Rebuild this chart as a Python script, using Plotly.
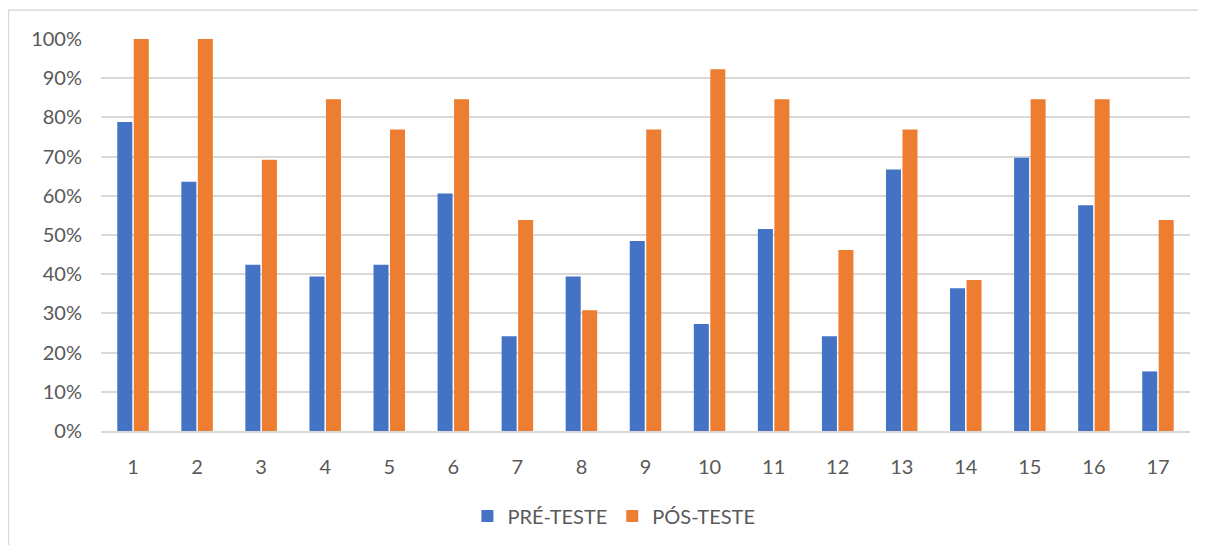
import plotly.graph_objects as go

categories = [str(i) for i in range(1, 18)]
pre_teste = [0.788, 0.636, 0.424, 0.394, 0.424, 0.606, 0.242, 0.394, 0.485, 0.273,
             0.515, 0.242, 0.667, 0.364, 0.697, 0.576, 0.152]
pos_teste = [1.0, 1.0, 0.692, 0.846, 0.769, 0.846, 0.538, 0.308, 0.769, 0.923,
             0.846, 0.462, 0.769, 0.385, 0.846, 0.846, 0.538]
series_names = ["PRÉ-TESTE", "PÓS-TESTE"]
y_ticks = [i / 10 for i in range(11)]

FONT = "Lato, 'Open Sans', sans-serif"
TXT = "#595959"

fig = go.Figure()
fig.add_trace(go.Bar(x=categories, y=pre_teste, name=series_names[0],
                     marker=dict(color="#4472C4", line=dict(width=0))))
fig.add_trace(go.Bar(x=categories, y=pos_teste, name=series_names[1],
                     marker=dict(color="#ED7D31", line=dict(width=0))))

border = dict(color="#d9d9d9", width=1.5)
fig.update_layout(
    width=1206, height=545,
    margin=dict(l=93, r=24, t=31, b=122),
    paper_bgcolor="white", plot_bgcolor="white",
    barmode="group", bargap=0.485, bargroupgap=0.09,
    font=dict(family=FONT, size=20, color=TXT),
    showlegend=True,
    legend=dict(orientation="h", x=0.471, xanchor="center", y=-0.217, yanchor="middle",
                font=dict(size=20, color=TXT), itemwidth=30, traceorder="normal"),
    xaxis=dict(showgrid=False, showline=True, linecolor="#d9d9d9", linewidth=1.5,
               ticks="", tickfont=dict(size=20, color=TXT), ticklabelstandoff=17),
    yaxis=dict(range=[0, 1.0], tickvals=y_ticks, tickformat=".0%",
               showgrid=True, gridcolor="#d9d9d9", gridwidth=1.5, zeroline=False,
               showline=False, ticks="", tickfont=dict(size=20, color=TXT),
               ticklabelstandoff=18),
    shapes=[
        dict(type="line", xref="paper", yref="paper", x0=-0.085, x1=1.1, y0=1.074, y1=1.074,
             line=border, layer="below"),
        dict(type="line", xref="paper", yref="paper", x0=-0.085, x1=-0.085, y0=1.074, y1=-0.4,
             line=border, layer="below"),
    ],
)

fig.write_html("out.html")
